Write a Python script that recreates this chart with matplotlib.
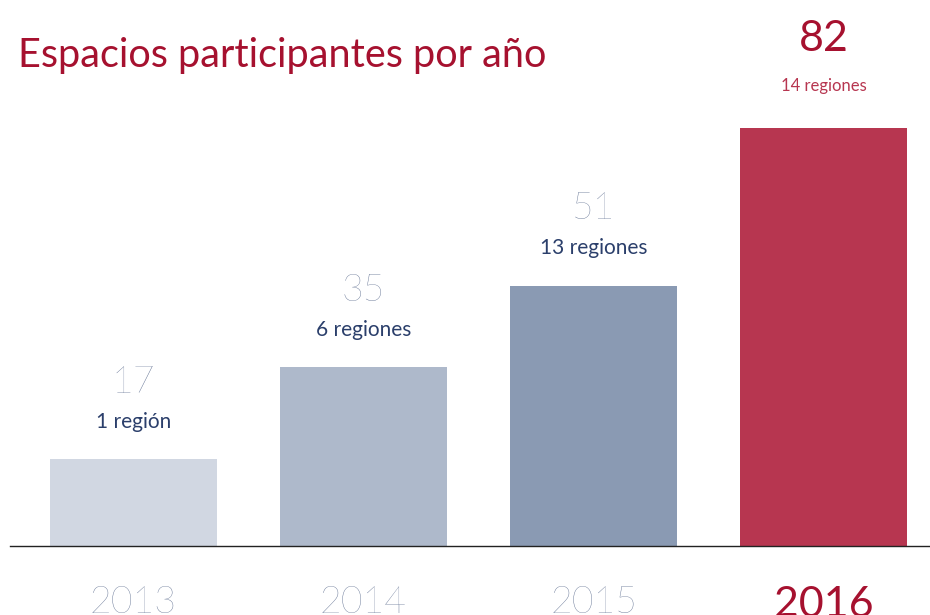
import matplotlib
matplotlib.use("Agg")
from matplotlib import pyplot as plt

years = ["2013", "2014", "2015", "2016"]
espacios = [17, 35, 51, 82]
regiones = ["1 región", "6 regiones", "13 regiones", "14 regiones"]

bar_colors = ["#D1D7E2", "#AEB9CB", "#8A9AB3", "#B73650"]
red = "#A6112F"
navy = "#2B3F6B"
grey = "#5F6F90"

plt.rcParams['font.family'] = ['Lato', 'DejaVu Sans']

fig = plt.figure(figsize=(9.3, 6.15), dpi=100)
ax = fig.add_axes([10 / 930, 69 / 615, 920 / 930, 546 / 615])

x = list(range(len(years)))
ax.bar(x, espacios, width=0.726, color=bar_colors)
ax.set_xlim(-0.537, 3.463)
ax.set_ylim(0, 107)

for s in ["top", "right", "left"]:
    ax.spines[s].set_visible(False)
ax.spines["bottom"].set_color("#222222")
ax.spines["bottom"].set_linewidth(1.0)
ax.set_yticks([])
ax.set_xticks(x)
ax.set_xticklabels(years)
ax.tick_params(axis="x", length=0, pad=29)
for i, lab in enumerate(ax.get_xticklabels()):
    if i == 3:
        lab.set_color(red)
        lab.set_fontsize(31)
    else:
        lab.set_color(grey)
        lab.set_fontsize(27)
        lab.set_fontweight("light")

for i, (v, r) in enumerate(zip(espacios, regiones)):
    if i == 3:
        ax.annotate(str(v), (i, v), xytext=(0, 64), textcoords="offset points",
                    ha="center", va="center", fontsize=31, color=red)
        ax.annotate(r, (i, v), xytext=(0, 30), textcoords="offset points",
                    ha="center", va="center", fontsize=12, color="#B73650")
    else:
        ax.annotate(str(v), (i, v), xytext=(0, 55), textcoords="offset points",
                    ha="center", va="center", fontsize=27, color=grey, fontweight="light")
        ax.annotate(r, (i, v), xytext=(0, 27), textcoords="offset points",
                    ha="center", va="center", fontsize=15, color=navy)

fig.text(18 / 930, 1 - 55 / 615, "Espacios participantes por año", fontsize=28.5,
         color=red, ha="left", va="center")

fig.savefig("out.png", dpi=100)
